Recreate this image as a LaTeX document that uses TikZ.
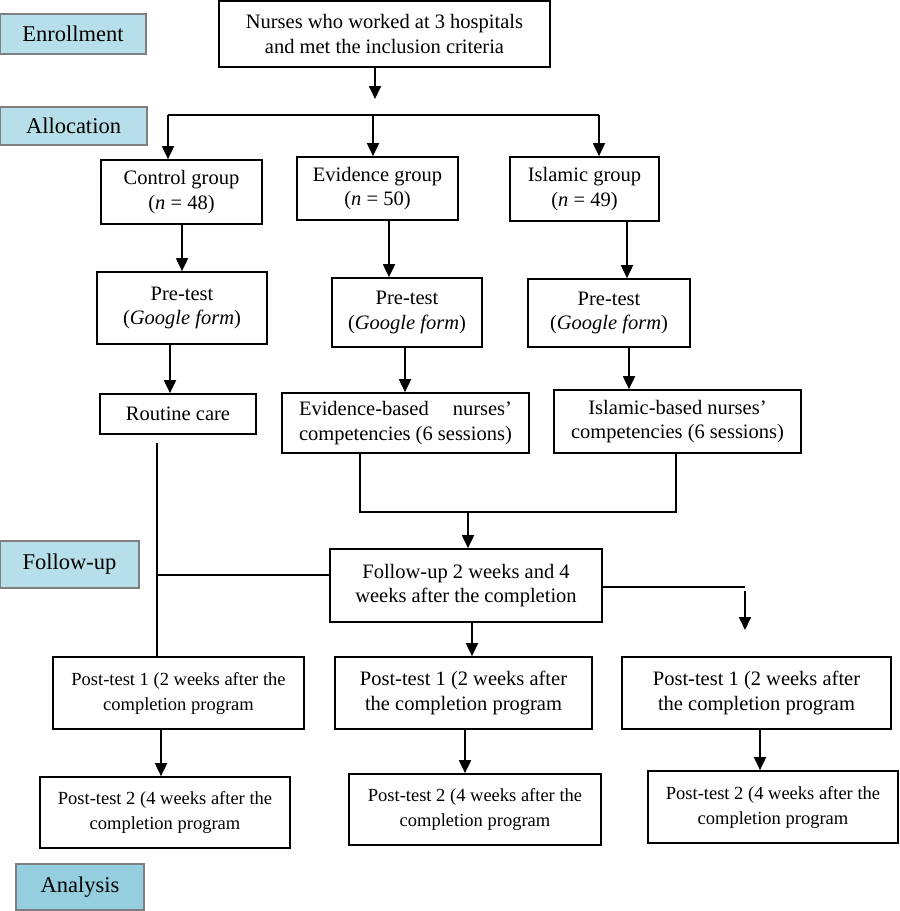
\documentclass[tikz,border=0pt]{standalone}
\usepackage{fontspec}
\setmainfont{Liberation Serif}
\usetikzlibrary{arrows.meta}
\definecolor{labfill}{HTML}{B7DFE9}
\definecolor{anafill}{HTML}{95CEDE}
\definecolor{labdraw}{HTML}{7F7F7F}
\tikzset{
  box/.style={draw=black, line width=1.7pt, inner sep=0pt, align=center, font=\fontsize{20.5}{24.5}\selectfont},
  smallbox/.style={box, font=\fontsize{18.5}{25}\selectfont},
  stage/.style={draw=labdraw, line width=1.2pt, fill=labfill, inner sep=0pt, font=\fontsize{22.5}{26}\selectfont},
  conn/.style={line width=1.8pt},
  arr/.style={line width=1.8pt, -{Triangle[width=12pt,length=13pt]}}
}
\begin{document}
\begin{tikzpicture}[x=1pt,y=-1pt]
\useasboundingbox (0,0) rectangle (900,911);
% stage labels
\node[stage, minimum width=146, minimum height=40] (enr) at (73,34) {Enrollment};
\node[stage, minimum width=147, minimum height=38] (alc) at (73.5,126) {Allocation};
\node[stage, minimum width=139, minimum height=47] (fol) at (69.5,564.5) {Follow-up};
\node[stage, fill=anafill, minimum width=128, minimum height=46] (ana) at (80,887) {Analysis};
% boxes
\node[box, minimum width=331, minimum height=66] (top) at (384.5,34) {Nurses who worked at 3 hospitals\\and met the inclusion criteria};
\node[box, minimum width=161, minimum height=64] (ctrl) at (181.5,192) {Control group\\(\textit{n} = 48)};
\node[box, minimum width=161, minimum height=63] (evg) at (377.5,188.5) {Evidence group\\(\textit{n} = 50)};
\node[box, minimum width=149, minimum height=64] (isg) at (584.5,189) {Islamic group\\(\textit{n} = 49)};
\node[box, minimum width=170, minimum height=72] (pre1) at (182,308) {Pre-test\\(\textit{Google form})};
\node[box, minimum width=150, minimum height=69] (pre2) at (407,312.5) {Pre-test\\(\textit{Google form})};
\node[box, minimum width=162, minimum height=68] (pre3) at (609,313) {Pre-test\\(\textit{Google form})};
\node[box, minimum width=156, minimum height=40] (rout) at (178,414) {Routine care};
\node[box, minimum width=247, minimum height=60] (evb) at (405.5,423) {\hbox to 213pt{Evidence-based\hfill nurses’}\\competencies (6 sessions)};
\node[box, minimum width=247, minimum height=63] (isb) at (677.5,421.5) {Islamic-based nurses’\\competencies (6 sessions)};
\node[box, minimum width=272, minimum height=73] (fu) at (466,585.5) {Follow-up 2 weeks and 4\\weeks after the completion};
\node[smallbox, minimum width=251, minimum height=72] (p1a) at (178.5,693) {Post-test 1 (2 weeks after the\\completion program};
\node[box, minimum width=257, minimum height=72] (p1b) at (463.5,693) {Post-test 1 (2 weeks after\\the completion program};
\node[box, minimum width=269, minimum height=72] (p1c) at (756.5,693) {Post-test 1 (2 weeks after\\the completion program};
\node[smallbox, minimum width=250, minimum height=71] (p2a) at (165,812.5) {Post-test 2 (4 weeks after the\\completion program};
\node[smallbox, minimum width=252, minimum height=71] (p2b) at (475,809.5) {Post-test 2 (4 weeks after the\\completion program};
\node[smallbox, minimum width=250, minimum height=72] (p2c) at (773,807) {Post-test 2 (4 weeks after the\\completion program};
% coordinates
\coordinate (a1) at (375,99);
\coordinate (hl) at (168,115);
\coordinate (hm) at (373,115);
\coordinate (hr) at (599,115);
\coordinate (rc) at (157,443);
\coordinate (jl) at (157,575);
\coordinate (mj1) at (360,512);
\coordinate (mj2) at (676,512);
\coordinate (mjm) at (468,512);
\coordinate (fr) at (745,587);
\coordinate (fa1) at (745,591);
\coordinate (fa2) at (745,630);
% connectors
\draw[arr] (top.south -| a1) -- (a1);
\draw[conn] (hl) -- (hr);
\draw[arr] (hl) -- (ctrl.north -| hl);
\draw[arr] (hm) -- (evg.north -| hm);
\draw[arr] (hr) -- (isg.north -| hr);
\draw[arr] (ctrl.south -| 182,0) -- (pre1.north -| 182,0);
\draw[arr] (evg.south -| 389,0) -- (pre2.north -| 389,0);
\draw[arr] (isg.south -| 627,0) -- (pre3.north -| 627,0);
\draw[arr] (pre1.south -| 170,0) -- (rout.north -| 170,0);
\draw[arr] (pre2.south -| 405,0) -- (evb.north -| 405,0);
\draw[arr] (pre3.south -| 629,0) -- (isb.north -| 629,0);
\draw[conn] (rc) -- (p1a.north -| rc);
\draw[conn] (jl) -- (jl -| fu.west);
\draw[conn] (evb.south -| mj1) -- (mj1) -- (mj2) -- (isb.south -| mj2);
\draw[arr] (mjm) -- (fu.north -| mjm);
\draw[conn] (fu.east |- fr) -- (fr);
\draw[arr] (fa1) -- (fa2);
\draw[arr] (fu.south -| 472,0) -- (p1b.north -| 472,0);
\draw[arr] (p1a.south -| 161,0) -- (p2a.north -| 161,0);
\draw[arr] (p1b.south -| 465,0) -- (p2b.north -| 465,0);
\draw[arr] (p1c.south -| 760,0) -- (p2c.north -| 760,0);
\end{tikzpicture}
\end{document}
